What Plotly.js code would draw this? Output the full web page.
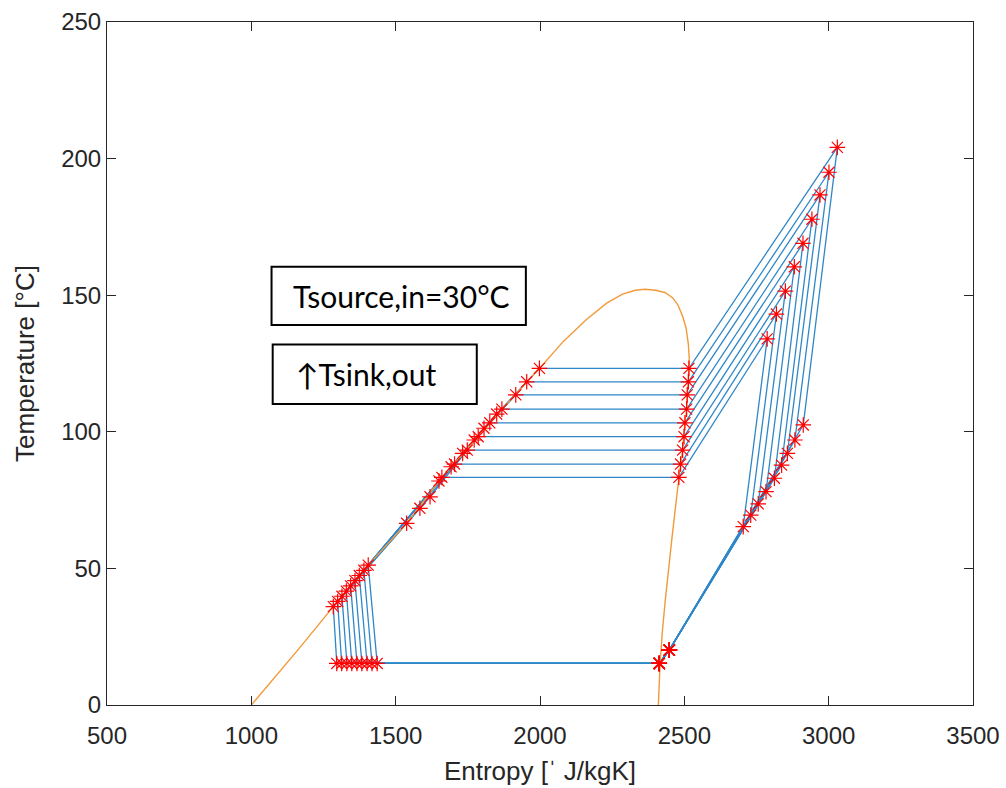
<!DOCTYPE html>
<html>
<head>
<meta charset="utf-8">
<script src="https://cdn.plot.ly/plotly-3.0.1.min.js"></script>
<style>html,body{margin:0;padding:0;background:#fff;}#chart{width:1006px;height:788px;}</style>
</head>
<body>
<div id="chart"></div>
<script>
// ---- Data (entropy in J/kgK, temperature in °C), index 0 = lowest Tsink,out ----
// Common evaporator points
const sEvapEnd = 2413, TEvapEnd = 15.2;      // end of evaporation
const sSucInlet = 2448, TSucInlet = 20.1;    // compressor suction (superheated)
// First compression stage outlet
const sStage1 = [2704, 2730, 2756, 2783, 2812, 2837, 2857, 2883, 2912];
const TStage1 = [65.3, 69.5, 73.6, 78.1, 83.0, 87.8, 92.1, 97.0, 102.5];
// Discharge (top) points
const sDischarge = [2787, 2819, 2850, 2881, 2911, 2942, 2970, 3001, 3030];
const TDischarge = [134.0, 143.1, 151.5, 160.4, 169.0, 177.8, 186.7, 195.0, 204.1];
// Condensation temperature, saturated vapour / liquid entropy
const TCond = [83.3, 88.2, 93.3, 98.2, 103.3, 108.3, 113.5, 118.3, 123.2];
const sSatVap = [2481, 2487, 2494, 2499, 2502, 2508, 2510, 2514, 2516];
const sSatLiq = [1660, 1704, 1748, 1786, 1826, 1868, 1916, 1954, 1998];
// Intermediate liquid points
const sLiqMid = [1538, 1584, 1619, 1650, 1692, 1732, 1772, 1806, 1850];
const TLiqMid = [66.5, 72.0, 76.2, 82.0, 87.2, 92.1, 97.0, 101.3, 106.5];
// Subcooled liquid before expansion
const sSubcool = [1284, 1299, 1314, 1329, 1344, 1359, 1374, 1390, 1405];
const TSubcool = [36.0, 37.9, 39.8, 41.7, 43.6, 45.5, 47.4, 49.3, 51.2];
// After expansion (evaporator inlet)
const sExpOut = [1296, 1313, 1331, 1348, 1366, 1383, 1401, 1418, 1436];
const TExpOut = [15.2, 15.2, 15.2, 15.2, 15.2, 15.2, 15.2, 15.2, 15.2];
// Saturation dome
const sDome = [1000, 1160, 1284, 1405, 1538, 1660, 1786, 1868, 1998, 2080, 2160, 2230, 2284, 2330, 2364, 2400, 2433, 2460, 2478, 2495, 2506, 2514, 2517, 2516, 2514, 2510, 2508, 2502, 2499, 2494, 2487, 2481, 2470, 2457, 2445, 2434, 2424, 2416, 2410];
const TDome = [0, 20, 36, 51.2, 66.5, 83.3, 98.3, 108.3, 123.2, 133, 141, 147, 150.3, 151.8, 152.2, 151.8, 151, 149, 146.4, 142, 138, 132, 127, 123.2, 118.3, 113.5, 108.3, 103.3, 98.2, 93.3, 88.2, 83.3, 73, 61, 50, 38.4, 27, 15.2, 0];
// Axis ticks and labels
const xTicks = [500, 1000, 1500, 2000, 2500, 3000, 3500];
const yTicks = [0, 50, 100, 150, 200, 250];
const xLabel = 'Entropy [ˈ J/kgK]';
const yLabel = 'Temperature [°C]';
const boxText1 = 'Tsource,in=30°C';
const boxText2 = '↑Tsink,out';

const BLUE = '#2f87c8', ORANGE = '#f29a3a', AX = '#262626';
const traces = [];
const starS = [], starT = [];
for (let i = 0; i < TCond.length; i++) {
  const xs = [sSucInlet, sStage1[i], sDischarge[i], sSatVap[i], sSatLiq[i], sLiqMid[i], sSubcool[i], sExpOut[i], sEvapEnd, sSucInlet];
  const ys = [TSucInlet, TStage1[i], TDischarge[i], TCond[i], TCond[i], TLiqMid[i], TSubcool[i], TExpOut[i], TEvapEnd, TSucInlet];
  traces.push({x: xs, y: ys, type: 'scatter', mode: 'lines', line: {color: BLUE, width: 1.3}, showlegend: false, hoverinfo: 'skip'});
  for (let k = 0; k < xs.length - 1; k++) { starS.push(xs[k]); starT.push(ys[k]); }
}
traces.push({x: sDome, y: TDome, type: 'scatter', mode: 'lines', line: {color: ORANGE, width: 1.4}, showlegend: false});
traces.push({x: starS, y: starT, type: 'scatter', mode: 'markers', marker: {symbol: 'asterisk-open', size: 13, color: 'red', line: {color: 'red', width: 1.2}}, showlegend: false});

const axisCommon = {
  ticks: 'inside', ticklen: 9, tickwidth: 1, tickcolor: AX,
  showline: true, linecolor: AX, linewidth: 1, mirror: 'ticks',
  showgrid: false, zeroline: false,
  tickfont: {family: 'Liberation Sans, Arial, sans-serif', size: 24, color: AX}
};
const layout = {
  width: 1006, height: 788,
  margin: {l: 107, r: 33, t: 22, b: 83},
  paper_bgcolor: '#fff', plot_bgcolor: '#fff',
  xaxis: Object.assign({}, axisCommon, {range: [500, 3500], tickvals: xTicks, ticktext: xTicks.map(String),
    ticklabelstandoff: 9,
    title: {text: xLabel, font: {family: 'Liberation Sans, Arial, sans-serif', size: 26, color: AX}, standoff: 14}}),
  yaxis: Object.assign({}, axisCommon, {range: [0, 250], tickvals: yTicks, ticktext: yTicks.map(String),
    title: {text: yLabel, font: {family: 'Liberation Sans, Arial, sans-serif', size: 26, color: AX}, standoff: 19}}),
  shapes: [
    {type: 'rect', xref: 'x', yref: 'y', x0: 1070, x1: 1951, y0: 139.1, y1: 160.4, line: {color: 'black', width: 2}},
    {type: 'rect', xref: 'x', yref: 'y', x0: 1074, x1: 1781, y0: 110.2, y1: 132.0, line: {color: 'black', width: 2}}
  ],
  annotations: [
    {xref: 'x', yref: 'y', x: 1138, y: 149.7, xanchor: 'left', yanchor: 'middle', text: boxText1, showarrow: false,
     font: {family: 'Lato, sans-serif', size: 30, color: 'black'}},
    {xref: 'x', yref: 'y', x: 1148, y: 121.2, xanchor: 'left', yanchor: 'middle', text: boxText2, showarrow: false,
     font: {family: 'Lato, sans-serif', size: 30, color: 'black'}}
  ]
};
Plotly.newPlot('chart', traces, layout, {displayModeBar: false, staticPlot: true});
</script>
</body>
</html>
